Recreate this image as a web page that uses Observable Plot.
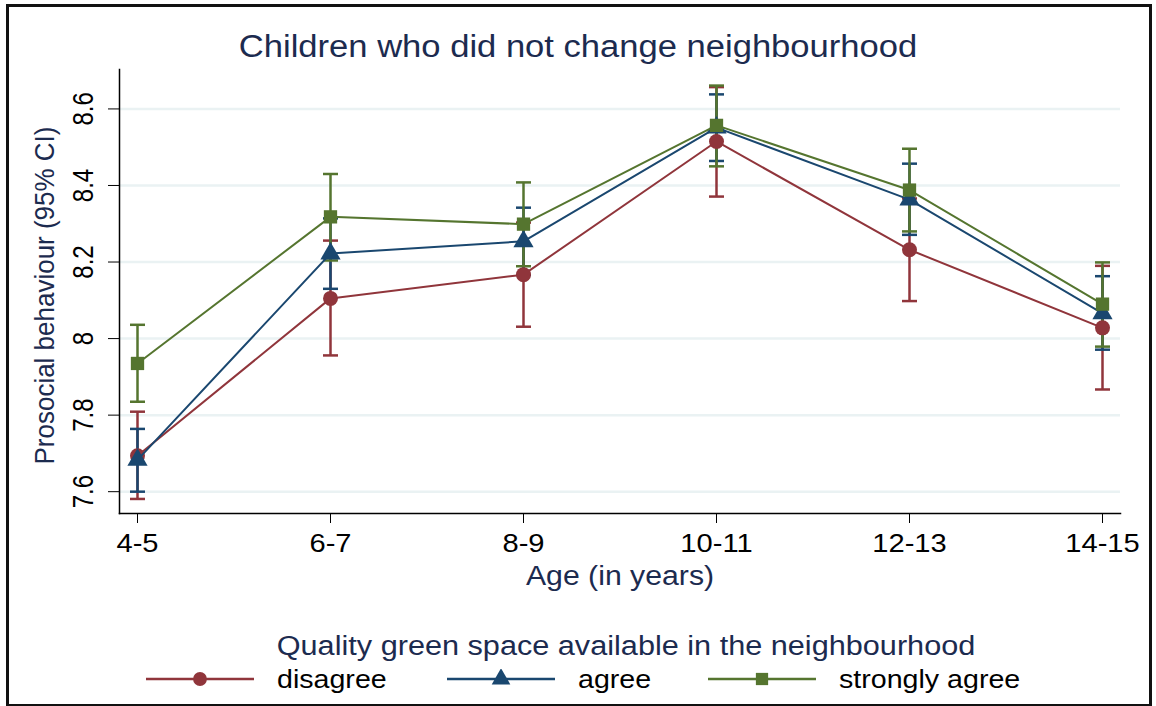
<!DOCTYPE html>
<html>
<head>
<meta charset="utf-8">
<script src="https://cdn.jsdelivr.net/npm/d3@7"></script>
<script src="https://cdn.jsdelivr.net/npm/@observablehq/plot@0.6"></script>
<style>
  html, body { margin: 0; padding: 0; background: #fff; }
  body { width: 1156px; height: 706px; position: relative; overflow: hidden; font-family: "Liberation Sans", Arial, sans-serif; }
  #frame { position: absolute; left: 6px; top: 4px; width: 1140px; height: 697px; border: 3px solid #111; box-sizing: content-box; }
  #chart { position: absolute; left: 0; top: 0; }
  #title { position: absolute; left: 0; top: 29px; width: 1156px; line-height: 36px; text-align: center; font-size: 31px; color: #1c2b4f; transform: scaleX(1.115); transform-origin: 578px 0; }
  #legtitle { position: absolute; left: 0; top: 630px; width: 1252px; line-height: 32px; text-align: center; font-size: 27px; color: #1c2b4f; transform: scaleX(1.135); transform-origin: 626px 0; }
  .legline { position: absolute; top: 669px; }
  .leglab { position: absolute; top: 664px; line-height: 30px; font-size: 26px; color: #000; transform: scaleX(1.1); transform-origin: 0 0; white-space: nowrap; }
</style>
</head>
<body>
<div id="chart"></div>
<div id="title">Children who did not change neighbourhood</div>
<div id="legtitle">Quality green space available in the neighbourhood</div>
<div id="legend"></div>
<div id="frame"></div>
<script>
// ---- data ----
const ages = ["4-5", "6-7", "8-9", "10-11", "12-13", "14-15"];
const groups = ["disagree", "agree", "strongly agree"];
const colors = ["#90353b", "#1a476f", "#55752f"];
const symbols = ["circle", "triangle", "square"];

const disagreeMean = [7.694, 8.105, 8.167, 8.515, 8.232, 8.028];
const disagreeLo   = [7.581, 7.956, 8.031, 8.371, 8.098, 7.867];
const disagreeHi   = [7.809, 8.256, 8.303, 8.657, 8.366, 8.190];

const agreeMean = [7.683, 8.222, 8.254, 8.551, 8.363, 8.066];
const agreeLo   = [7.600, 8.130, 8.166, 8.464, 8.271, 7.971];
const agreeHi   = [7.764, 8.314, 8.342, 8.638, 8.457, 8.163];

const strongMean = [7.935, 8.318, 8.299, 8.557, 8.388, 8.090];
const strongLo   = [7.835, 8.204, 8.189, 8.450, 8.280, 7.979];
const strongHi   = [8.036, 8.430, 8.408, 8.661, 8.496, 8.199];

const yTicks = [7.6, 7.8, 8.0, 8.2, 8.4, 8.6];

// ---- build table ----
const series = [
  [disagreeMean, disagreeLo, disagreeHi],
  [agreeMean, agreeLo, agreeHi],
  [strongMean, strongLo, strongHi]
];
const data = [];
series.forEach(([m, lo, hi], g) => {
  ages.forEach((a, i) => data.push({age: a, group: groups[g], mean: m[i], lo: lo[i], hi: hi[i]}));
});

const cap = { draw(context) { context.moveTo(-7.5, 0); context.lineTo(7.5, 0); } };
const fmt = d => String(+d.toFixed(1));

const colorScale = {type: "ordinal", domain: groups, range: colors};
const symbolScale = {type: "ordinal", domain: groups, range: symbols};

const marks = [
  Plot.gridY(yTicks, {stroke: "#eaf2f3", strokeOpacity: 1, strokeWidth: 2.5}),
  Plot.frame({anchor: "left", stroke: "#000", strokeWidth: 1.5}),
  Plot.frame({anchor: "bottom", stroke: "#000", strokeWidth: 1.5}),
  Plot.axisY({ticks: yTicks, tickSize: 11, tickFormat: () => "", stroke: "#000"}),
  Plot.text(yTicks, {y: d => d, text: fmt, frameAnchor: "left", textAnchor: "middle", dx: -36, rotate: -90, fontSize: 24, fill: "#000"}),
  Plot.axisX({tickSize: 10, tickPadding: 10, fontSize: 26, fill: "#000", label: null}),
  Plot.text(["Age (in years)"], {frameAnchor: "bottom", textAnchor: "middle", dy: 71, fontSize: 27, fill: "#1c2b4f"}),
  Plot.text(["Prosocial behaviour (95% CI)"], {frameAnchor: "left", textAnchor: "middle", dx: -74, dy: 4, rotate: -90, fontSize: 26, fill: "#1c2b4f"})
];
groups.forEach(g => {
  const d = data.filter(r => r.group === g);
  marks.push(
    Plot.ruleX(d, {x: "age", y1: "lo", y2: "hi", stroke: "group", strokeWidth: 2.5}),
    Plot.dot(d, {x: "age", y: "lo", symbol: () => cap, stroke: "group", strokeWidth: 2.5, fill: "none", r: 5}),
    Plot.dot(d, {x: "age", y: "hi", symbol: () => cap, stroke: "group", strokeWidth: 2.5, fill: "none", r: 5})
  );
});
groups.forEach(g => {
  const d = data.filter(r => r.group === g);
  marks.push(
    Plot.line(d, {x: "age", y: "mean", stroke: "group", strokeWidth: 2}),
    Plot.dot(d, {x: "age", y: "mean", symbol: "group", fill: "group", stroke: "none", r: 7.5})
  );
});

const chart = Plot.plot({
  width: 1156,
  height: 600,
  marginTop: 69,
  marginLeft: 119,
  marginRight: 36,
  marginBottom: 87,
  style: {fontFamily: "'Liberation Sans', Arial, sans-serif", background: "transparent", overflow: "visible"},
  x: {type: "point", domain: ages, padding: 0.093, axis: null},
  y: {domain: [7.543, 8.703], axis: null},
  color: colorScale,
  symbol: symbolScale,
  marks
});
document.getElementById("chart").appendChild(chart);

// Widen glyphs horizontally, like the reference's rendering
chart.querySelectorAll("text").forEach(t => {
  const tr = t.getAttribute("transform") || "";
  if (tr.includes("rotate")) {
    const fs = parseFloat(t.getAttribute("font-size") || t.parentNode.getAttribute("font-size") || 0);
    t.setAttribute("transform", tr + (fs < 25 ? " scale(1,1.2)" : " scale(1,1.08)"));
  } else if (tr) {
    t.setAttribute("transform", tr + " scale(1.12,1)");
  }
});

// ---- legend ----
const legLine = [146, 447, 708];
const legLab = [277, 578, 839];
const legend = document.getElementById("legend");
groups.forEach((g, i) => {
  const sym = d3.symbol(i === 0 ? d3.symbolCircle : i === 1 ? d3.symbolTriangle : d3.symbolSquare, Math.PI * 7.5 * 7.5 * 0.85)();
  const s = document.createElement("div");
  s.className = "legline";
  s.style.left = legLine[i] + "px";
  s.innerHTML = `<svg width="108" height="20" style="display:block"><line x1="0" x2="108" y1="10" y2="10" stroke="${colors[i]}" stroke-width="2.5"/><path d="${sym}" transform="translate(54,10)" fill="${colors[i]}"/></svg>`;
  legend.appendChild(s);
  const l = document.createElement("div");
  l.className = "leglab";
  l.style.left = legLab[i] + "px";
  l.textContent = g;
  legend.appendChild(l);
});
</script>
</body>
</html>
